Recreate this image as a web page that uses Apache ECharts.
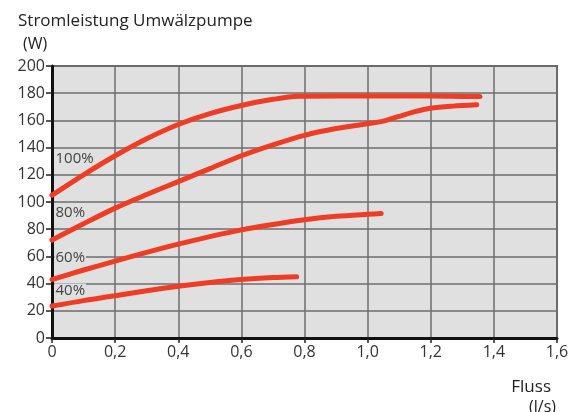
<!DOCTYPE html>
<html lang="de">
<head>
    <meta charset="UTF-8">
    <title>Stromleistung Umwälzpumpe</title>
    <script src="https://cdn.jsdelivr.net/npm/echarts@6.0.0/dist/echarts.min.js"></script>
    <style>
        body { margin: 0; background: #fff; }
        #chart { width: 575px; height: 412px; }
    </style>
</head>
<body>
    <div id="chart"></div>
    <script>
        // Kurven: [Fluss l/s, Leistung W]
        const curve100 = [[0, 105], [0.1, 120], [0.2, 134], [0.3, 146.5], [0.4, 157], [0.5, 165], [0.6, 171], [0.7, 175.5], [0.78, 177.8], [0.9, 178], [1.0, 178], [1.2, 178], [1.356, 177.5]];
        const curve80 = [[0, 72], [0.1, 84], [0.2, 95.5], [0.3, 105.5], [0.4, 115], [0.5, 124.5], [0.6, 134], [0.7, 142], [0.8, 149], [0.9, 154], [1.0, 157.5], [1.05, 159.5], [1.1, 163], [1.15, 166.5], [1.2, 169], [1.27, 170.5], [1.346, 171.5]];
        const curve60 = [[0, 43], [0.1, 50], [0.2, 56.5], [0.3, 63], [0.4, 69], [0.5, 74.5], [0.6, 79.5], [0.7, 83.5], [0.8, 87], [0.9, 89.5], [1.0, 91], [1.043, 91.5]];
        const curve40 = [[0, 23.5], [0.1, 27.5], [0.2, 31], [0.3, 34.7], [0.4, 38], [0.5, 40.8], [0.6, 43], [0.7, 44.4], [0.775, 45]];
        const curveNames = ['100%', '80%', '60%', '40%'];
        const labelLevels = [132, 92, 59, 35];

        const font = "'Open Sans', 'Noto Sans', sans-serif";
        const red = '#ef3c24';
        const curves = [curve100, curve80, curve60, curve40];

        const series = curves.map((c, i) => ({
            name: curveNames[i],
            type: 'line',
            data: c,
            smooth: 0.3,
            showSymbol: false,
            lineStyle: { color: red, width: 5, cap: 'round' },
            z: 3,
            markPoint: {
                symbol: 'circle',
                symbolSize: 1,
                silent: true,
                z: 2,
                itemStyle: { color: 'rgba(0,0,0,0)' },
                data: [{ coord: [0, labelLevels[i]] }],
                label: {
                    show: true,
                    formatter: curveNames[i],
                    position: 'right',
                    distance: 2,
                    color: '#444',
                    fontFamily: font,
                    fontSize: 15,
                    lineHeight: 14,
                    backgroundColor: '#e0e0e0',
                    padding: [0, 1]
                }
            }
        }));

        const chart = echarts.init(document.getElementById('chart'));
        chart.setOption({
            animation: false,
            title: [
                { text: 'Stromleistung Umwälzpumpe', left: 13, top: 8, textStyle: { fontFamily: font, fontSize: 17, fontWeight: 'normal', color: '#222' } },
                { text: '(W)', left: 18, top: 31, textStyle: { fontFamily: font, fontSize: 16, fontWeight: 'normal', color: '#222' } },
                { text: 'Fluss', right: 19, top: 374, textStyle: { fontFamily: font, fontSize: 17, fontWeight: 'normal', color: '#222' } },
                { text: '(l/s)', right: 14, top: 394, textStyle: { fontFamily: font, fontSize: 16, fontWeight: 'normal', color: '#222' } }
            ],
            grid: {
                left: 52, right: 18, top: 66, bottom: 74,
                show: true,
                backgroundColor: '#e0e0e0',
                borderColor: '#666',
                borderWidth: 2
            },
            xAxis: {
                type: 'value',
                min: 0, max: 1.6, interval: 0.2,
                axisLine: { show: true, onZero: false, lineStyle: { color: '#111', width: 3 } },
                axisTick: { show: true, length: 5, lineStyle: { color: '#222', width: 1.5 } },
                axisLabel: {
                    color: '#333', fontFamily: font, fontSize: 16, margin: 6,
                    formatter: v => v === 0 ? '0' : v.toFixed(1).replace('.', ',')
                },
                splitLine: { show: true, lineStyle: { color: '#6e6e6e', width: 1.5 } }
            },
            yAxis: {
                type: 'value',
                min: 0, max: 200, interval: 20,
                axisLine: { show: true, onZero: false, lineStyle: { color: '#111', width: 3 } },
                axisTick: { show: true, length: 6, lineStyle: { color: '#222', width: 1.5 } },
                axisLabel: { color: '#333', fontFamily: font, fontSize: 16, margin: 7 },
                splitLine: { show: true, lineStyle: { color: '#6e6e6e', width: 1.5 } }
            },
            series: series
        });
    </script>
</body>
</html>
